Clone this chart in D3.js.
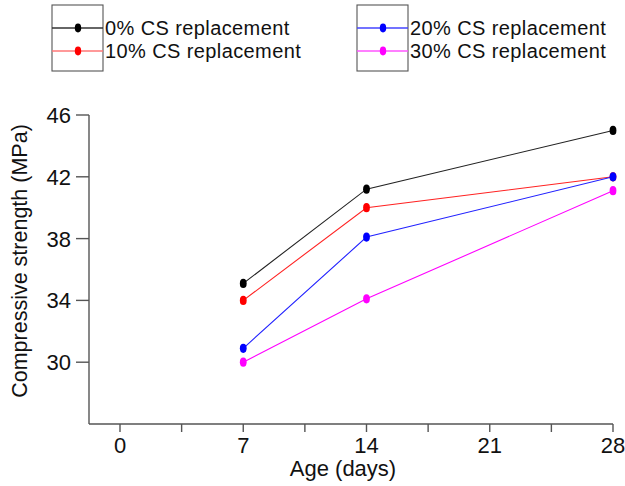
<!DOCTYPE html>
<html>
<head>
<meta charset="utf-8">
<script src="https://cdn.jsdelivr.net/npm/d3@7"></script>
<style>
  body { margin: 0; background: #fff; }
  text { font-family: "Liberation Sans", Arial, sans-serif; fill: #111; }
</style>
</head>
<body>
<script>
var ages = [7, 14, 28];
var seriesNames = ["0% CS replacement", "10% CS replacement", "20% CS replacement", "30% CS replacement"];
var cs0 = [35.1, 41.2, 45.0];
var cs10 = [34.0, 40.0, 42.0];
var cs20 = [30.9, 38.1, 42.0];
var cs30 = [30.0, 34.1, 41.1];
var xTicks = [0, 7, 14, 21, 28];
var xMinor = [3.5, 10.5, 17.5, 24.5];
var yTicks = [30, 34, 38, 42, 46];

var lineColors = ["#222", "#f22", "#22f", "#f0f"];
var dotColors = ["#000", "#f00", "#00f", "#f0f"];
var legendLineColors = ["#333", "#f77", "#44f", "#f5f"];

var w = 625, h = 486;

var svg = d3.select("body").append("svg")
    .attr("width", w)
    .attr("height", h);

var x = d3.scaleLinear().domain([0, 28]).range([120, 613]);
var y = d3.scaleLinear().domain([26, 46]).range([424, 115]);

var axisColor = "#555";

// axes
var gx = svg.append("g").attr("transform", "translate(0,424)");
gx.append("line").attr("x1", 89).attr("x2", x(28)).attr("stroke", axisColor).attr("stroke-width", 1.4);
gx.selectAll(".maj").data(xTicks).enter().append("line")
    .attr("x1", d => x(d)).attr("x2", d => x(d)).attr("y1", 0).attr("y2", 8)
    .attr("stroke", axisColor).attr("stroke-width", 1.4);
gx.selectAll(".min").data(xMinor).enter().append("line")
    .attr("x1", d => x(d)).attr("x2", d => x(d)).attr("y1", 0).attr("y2", 8)
    .attr("stroke", axisColor).attr("stroke-width", 1.4);
gx.selectAll("text").data(xTicks).enter().append("text")
    .attr("x", d => x(d)).attr("y", 29)
    .attr("text-anchor", "middle").style("font-size", "22px")
    .text(d => d);

var gy = svg.append("g").attr("transform", "translate(89,0)");
gy.append("line").attr("y1", y(46)).attr("y2", 424).attr("stroke", axisColor).attr("stroke-width", 1.4);
gy.selectAll("line.t").data(yTicks).enter().append("line")
    .attr("class", "t")
    .attr("x1", -13).attr("x2", 0).attr("y1", d => y(d)).attr("y2", d => y(d))
    .attr("stroke", axisColor).attr("stroke-width", 1.4);
gy.selectAll("text").data(yTicks).enter().append("text")
    .attr("x", -18).attr("y", d => y(d)).attr("dy", "0.36em")
    .attr("text-anchor", "end").style("font-size", "22px")
    .text(d => d);

svg.append("text")
    .attr("transform", "translate(27," + ((120 + 402) / 2) + ") rotate(-90)")
    .attr("text-anchor", "middle").style("font-size", "21.5px")
    .text("Compressive strength (MPa)");

svg.append("text")
    .attr("x", 343).attr("y", 476)
    .attr("text-anchor", "middle").style("font-size", "22px")
    .text("Age (days)");

// series
var allSeries = [cs0, cs10, cs20, cs30];
var line = d3.line().x((d, i) => x(ages[i])).y(d => y(d));

allSeries.forEach(function(s, k) {
    svg.append("path").datum(s)
        .attr("d", line)
        .attr("fill", "none")
        .attr("stroke", lineColors[k])
        .attr("stroke-width", 1.1);
    svg.selectAll(".dot" + k).data(s).enter().append("ellipse")
        .attr("cx", (d, i) => x(ages[i])).attr("cy", d => y(d))
        .attr("rx", 3.4).attr("ry", 4.6)
        .attr("fill", dotColors[k]);
});

// legends
var legendBoxes = [{ x: 52, items: [0, 1] }, { x: 357, items: [2, 3] }];
var rowY = [28, 51];
legendBoxes.forEach(function(b) {
    var g = svg.append("g");
    g.append("rect").attr("x", b.x).attr("y", 5).attr("width", 51).attr("height", 66)
        .attr("fill", "none").attr("stroke", "#555").attr("stroke-width", 1.1);
    b.items.forEach(function(k, j) {
        g.append("line").attr("x1", b.x).attr("x2", b.x + 51)
            .attr("y1", rowY[j]).attr("y2", rowY[j])
            .attr("stroke", legendLineColors[k]).attr("stroke-width", 1.5);
        g.append("ellipse").attr("cx", b.x + 26).attr("cy", rowY[j])
            .attr("rx", 3.2).attr("ry", 4.4).attr("fill", dotColors[k]);
        g.append("text").attr("x", b.x + 53).attr("y", rowY[j]).attr("dy", "0.36em")
            .style("font-size", "20px").style("letter-spacing", "0.4px").text(seriesNames[k]);
    });
});
</script>
</body>
</html>
